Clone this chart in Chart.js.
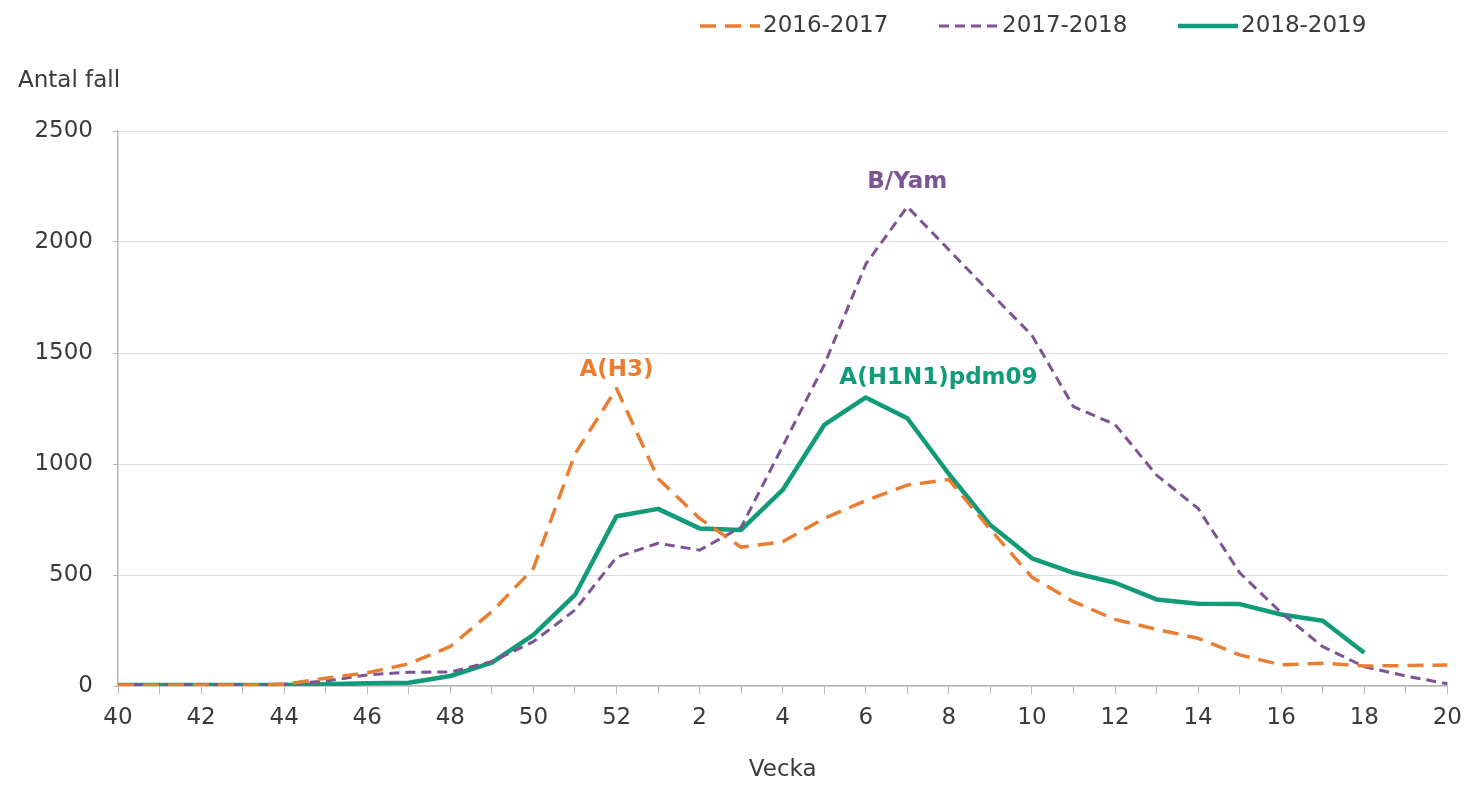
<!DOCTYPE html>
<html>
<head>
<meta charset="utf-8">
<script src="https://cdn.jsdelivr.net/npm/chart.js@4.4.1/dist/chart.umd.min.js"></script>
<style>
  html, body { margin: 0; padding: 0; background: #fff; }
  #wrap { width: 1472px; height: 785px; }
</style>
</head>
<body>
<div id="wrap"><canvas id="chart" width="1472" height="785"></canvas></div>
<script>
// weeks 40-52, then 1-20
const weekLabels = ['40','41','42','43','44','45','46','47','48','49','50','51','52',
  '1','2','3','4','5','6','7','8','9','10','11','12','13','14','15','16','17','18','19','20'];
const shownWeeks = ['40','42','44','46','48','50','52','2','4','6','8','10','12','14','16','18','20'];

const season1617 = [5,5,5,5,8,35,60,100,178,335,530,1045,1340,
  935,755,625,650,755,835,905,930,705,490,380,300,255,215,140,95,103,90,92,95];
const season1718 = [5,5,5,5,8,22,50,62,63,110,200,342,580,
  643,612,715,1080,1446,1900,2159,1965,1770,1580,1258,1178,950,800,510,330,177,87,45,10];
const season1819 = [5,5,5,5,5,8,12,15,45,105,230,410,765,
  798,710,703,883,1176,1300,1206,955,725,575,510,465,390,370,369,322,294,150,null,null];

const seriesNames = ['2016-2017', '2017-2018', '2018-2019'];

const ORANGE = '#E97E32';
const PURPLE = '#7D5392';
const GREEN = '#119B79';
const TEXT = '#3a3a3a';
const FONT = '"DejaVu Sans", Verdana, sans-serif';

const extras = {
  id: 'extras',
  afterDraw(chart) {
    const { ctx } = chart;
    const xs = chart.scales.x, ys = chart.scales.y;
    ctx.save();
    ctx.textBaseline = 'middle';
    ctx.font = '23px ' + FONT;
    ctx.fillStyle = TEXT;
    ctx.textAlign = 'left';
    ctx.fillText('Antal fall', 18, 81);

    // legend
    chart.data.datasets.forEach((ds, i) => {
      const x0 = 700 + 239 * i, yy = 26;
      ctx.beginPath();
      ctx.setLineDash(ds.borderDash || []);
      ctx.lineWidth = ds.borderWidth;
      ctx.strokeStyle = ds.borderColor;
      ctx.moveTo(x0, yy);
      ctx.lineTo(x0 + 60, yy);
      ctx.stroke();
      ctx.setLineDash([]);
      ctx.fillStyle = TEXT;
      ctx.fillText(ds.label, x0 + 63, yy);
    });

    // peak notes
    ctx.font = 'bold 23px ' + FONT;
    ctx.textAlign = 'center';
    const notes = [
      { text: 'A(H3)', at: 12, value: 1425, color: ORANGE },
      { text: 'B/Yam', at: 19, value: 2270, color: PURPLE },
      { text: 'A(H1N1)pdm09', at: 19.75, value: 1387, color: GREEN },
    ];
    notes.forEach(n => {
      ctx.fillStyle = n.color;
      ctx.fillText(n.text, xs.getPixelForValue(n.at), ys.getPixelForValue(n.value));
    });
    ctx.restore();
  }
};

new Chart(document.getElementById('chart'), {
  type: 'line',
  data: {
    labels: weekLabels,
    datasets: [
      { label: seriesNames[0], data: season1617, borderColor: ORANGE, borderWidth: 3.5, borderDash: [16, 9] },
      { label: seriesNames[1], data: season1718, borderColor: PURPLE, borderWidth: 3, borderDash: [10, 6] },
      { label: seriesNames[2], data: season1819, borderColor: GREEN, borderWidth: 4.5 },
    ],
  },
  options: {
    responsive: false,
    animation: false,
    events: [],
    elements: {
      point: { radius: 0 },
      line: { tension: 0, fill: false, borderJoinStyle: 'round' },
    },
    layout: { padding: { top: 131, left: 0, right: 20, bottom: 0 } },
    plugins: {
      legend: { display: false },
      tooltip: { enabled: false },
    },
    scales: {
      x: {
        offset: false,
        afterFit(scale) { scale.height = 99; },
        grid: { display: true, drawOnChartArea: false, drawTicks: true, tickLength: 8, color: '#b8b8b8', tickColor: '#b8b8b8' },
        border: { display: true, color: '#b8b8b8', width: 1.5 },
        ticks: {
          autoSkip: false,
          maxRotation: 0,
          padding: 10,
          color: TEXT,
          font: { family: FONT, size: 23 },
          callback(value) {
            const lab = weekLabels[value];
            return shownWeeks.includes(lab) ? lab : '';
          },
        },
        title: {
          display: true,
          text: 'Vecka',
          color: TEXT,
          font: { family: FONT, size: 23 },
          padding: { top: 0, bottom: 1 },
        },
      },
      y: {
        min: 0,
        max: 2500,
        afterFit(scale) { scale.width = 118; },
        grid: { color: '#dcdcdc', lineWidth: 1, tickLength: 5, tickColor: '#b8b8b8' },
        border: { display: true, color: '#b8b8b8', width: 1.5 },
        ticks: {
          stepSize: 500,
          padding: 20,
          color: TEXT,
          font: { family: FONT, size: 23 },
          callback(value) { return String(value); },
        },
      },
    },
  },
  plugins: [extras],
});
</script>
</body>
</html>
